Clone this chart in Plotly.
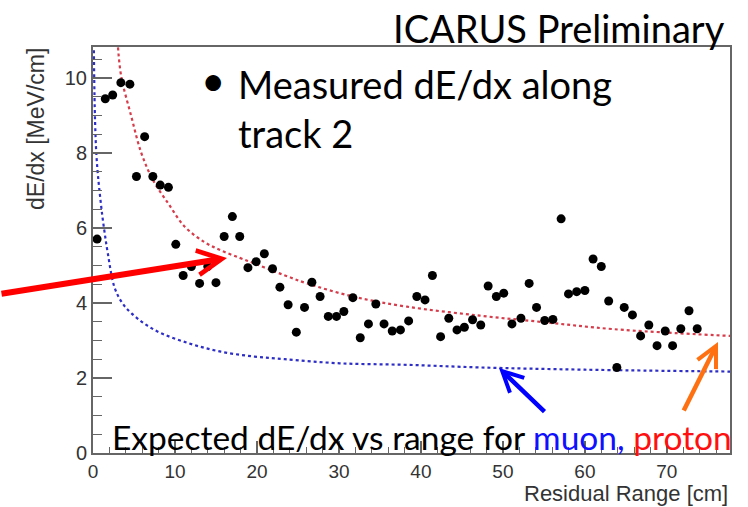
import plotly.graph_objects as go

# Measured dE/dx points (residual range [cm], dE/dx [MeV/cm])
meas_x = [0.5, 1.5, 2.4, 3.4, 4.5, 5.3, 6.3, 7.3, 8.2, 9.2, 10.1, 11.0, 12.0, 13.0, 14.0, 15.0,
          16.0, 17.0, 17.9, 18.9, 19.9, 20.9, 21.9, 22.8, 23.8, 24.8, 25.8, 26.7, 27.7, 28.7,
          29.7, 30.6, 31.7, 32.6, 33.6, 34.5, 35.5, 36.5, 37.5, 38.5, 39.5, 40.5, 41.4, 42.4,
          43.4, 44.4, 45.3, 46.3, 47.3, 48.2, 49.2, 50.1, 51.1, 52.2, 53.2, 54.1, 55.1, 56.1,
          57.1, 58.0, 59.0, 60.0, 61.0, 62.0, 62.9, 63.9, 64.8, 65.8, 66.8, 67.8, 68.8, 69.8,
          70.7, 71.7, 72.7, 73.7]
meas_y = [5.70, 9.44, 9.54, 9.87, 9.83, 7.37, 8.43, 7.37, 7.14, 7.08, 5.56, 4.73, 4.97, 4.52, 4.97, 4.54,
          5.77, 6.30, 5.77, 4.94, 5.10, 5.31, 4.91, 4.42, 3.95, 3.22, 3.88, 4.55, 4.17, 3.64,
          3.64, 3.77, 4.14, 3.07, 3.44, 3.97, 3.44, 3.25, 3.28, 3.52, 4.17, 4.08, 4.73, 3.10,
          3.59, 3.28, 3.35, 3.55, 3.41, 4.45, 4.17, 4.26, 3.44, 3.59, 4.52, 3.88, 3.53, 3.56,
          6.24, 4.24, 4.30, 4.33, 5.17, 4.97, 4.05, 2.28, 3.88, 3.68, 3.12, 3.41, 2.86, 3.25,
          2.86, 3.31, 3.79, 3.31]

# Expected proton curve
proton_x = [3.05, 3.45, 4.67, 5.9, 7.3, 9.15, 11.2, 13.6, 15.6, 17.9, 19.7, 22.0, 23.8, 26.1,
            31.7, 38.3, 47.2, 55.3, 63.5, 77.7]
proton_y = [10.81, 10.03, 8.97, 7.99, 7.28, 6.66, 6.03, 5.62, 5.40, 5.20, 5.05, 4.85, 4.70, 4.52,
            4.17, 3.90, 3.66, 3.48, 3.30, 3.12]

# Expected muon curve
muon_x = [0.1, 0.4, 1.0, 1.4, 1.8, 2.6, 3.5, 4.7, 7.5, 11.6, 15.6, 19.7, 23.4, 30.1, 38.3, 47.2, 60.0, 77.7]
muon_y = [10.9, 8.0, 6.57, 5.9, 5.33, 4.43, 4.02, 3.72, 3.28, 2.93, 2.70, 2.57, 2.50, 2.39, 2.35, 2.28, 2.22, 2.17]

x_ticks = [0, 10, 20, 30, 40, 50, 60, 70]
y_ticks = [0, 2, 4, 6, 8, 10]

AX = "#666666"
TXT = "Lato"

fig = go.Figure()
fig.add_trace(go.Scatter(x=muon_x, y=muon_y, mode="lines",
                         line=dict(color="rgb(45,45,200)", width=2.2, dash="dot", shape="spline"),
                         showlegend=False, hoverinfo="skip"))
fig.add_trace(go.Scatter(x=proton_x, y=proton_y, mode="lines",
                         line=dict(color="rgb(215,60,75)", width=2.2, dash="dot", shape="spline"),
                         showlegend=False, hoverinfo="skip"))
fig.add_trace(go.Scatter(x=meas_x, y=meas_y, mode="markers",
                         marker=dict(color="black", size=9),
                         showlegend=False))

fig.update_layout(
    width=748, height=507,
    margin=dict(l=93, r=18, t=47, b=54),
    paper_bgcolor="white", plot_bgcolor="white",
    xaxis=dict(range=[0, 77.7], tickvals=x_ticks, ticks="inside", ticklen=12, tickwidth=1.5,
               tickcolor=AX, showline=True, linecolor=AX, linewidth=2, mirror=True,
               showgrid=False, zeroline=False, ticklabelstandoff=0,
               tickfont=dict(family="Liberation Sans", size=19, color="#333333"),
               minor=dict(dtick=2, ticks="inside", ticklen=6, tickcolor=AX, tickwidth=1.2)),
    yaxis=dict(range=[0, 10.82], tickvals=y_ticks, ticks="inside", ticklen=19, tickwidth=1.5,
               tickcolor=AX, showline=True, linecolor=AX, linewidth=2, mirror=True,
               showgrid=False, zeroline=False,
               tickfont=dict(family="Liberation Sans", size=20, color="#333333"),
               minor=dict(dtick=0.5, ticks="inside", ticklen=9, tickcolor=AX, tickwidth=1.2)),
)

annotations = [
    dict(text="dE/dx [MeV/cm]", xref="paper", yref="paper", x=(36 - 93) / 637, y=(453 - 46) / 406,
         xanchor="center", yanchor="top", textangle=-90, showarrow=False,
         font=dict(family="Liberation Sans", size=23, color="#333333")),
    dict(text="Residual Range [cm]", xref="paper", yref="paper", x=(729 - 93) / 637, y=(453 - 507) / 406,
         xanchor="right", yanchor="bottom", showarrow=False, borderpad=0,
         font=dict(family="Liberation Sans", size=22, color="#333333")),
    dict(text="ICARUS Preliminary", xref="paper", yref="paper", x=(727 - 93) / 637, y=(453 - 28) / 406,
         xanchor="right", yanchor="middle", showarrow=False,
         font=dict(family=TXT, size=38, color="black")),
    dict(text="•", xref="paper", yref="paper", x=(213 - 93) / 637, y=(453 - 80) / 406,
         xanchor="center", yanchor="middle", showarrow=False,
         font=dict(family=TXT, size=42, color="black")),
    dict(text="Measured dE/dx along<br>track 2", xref="paper", yref="paper", x=(236 - 93) / 637,
         y=(453 - 108) / 406, xanchor="left", yanchor="middle", align="left", showarrow=False,
         font=dict(family=TXT, size=38, color="black")),
    dict(text="Expected dE/dx vs range for <span style='color:#1010ff'>muon,</span> "
              "<span style='color:#ff1010'>proton</span>",
         xref="paper", yref="paper", x=(110 - 93) / 637, y=(453 - 437) / 406,
         xanchor="left", yanchor="middle", showarrow=False,
         font=dict(family=TXT, size=33.5, color="black")),
    # arrows
    dict(text="", xref="paper", yref="paper", x=(227 - 93) / 637, y=(453 - 258) / 406,
         ax=-230, ay=36, axref="pixel", ayref="pixel", showarrow=True,
         arrowcolor="#ff0000", arrowwidth=6, arrowhead=5, arrowsize=0.8),
    dict(text="", xref="paper", yref="paper", x=(499 - 93) / 637, y=(453 - 368) / 406,
         ax=47, ay=45, showarrow=True,
         arrowcolor="#0000ff", arrowwidth=4.5, arrowhead=5, arrowsize=0.9),
    dict(text="", xref="paper", yref="paper", x=(718 - 93) / 637, y=(453 - 342) / 406,
         ax=-35, ay=70, showarrow=True,
         arrowcolor="#ff7010", arrowwidth=4.5, arrowhead=5, arrowsize=0.9),
]
fig.update_layout(annotations=annotations)

fig.write_html("out.html")
